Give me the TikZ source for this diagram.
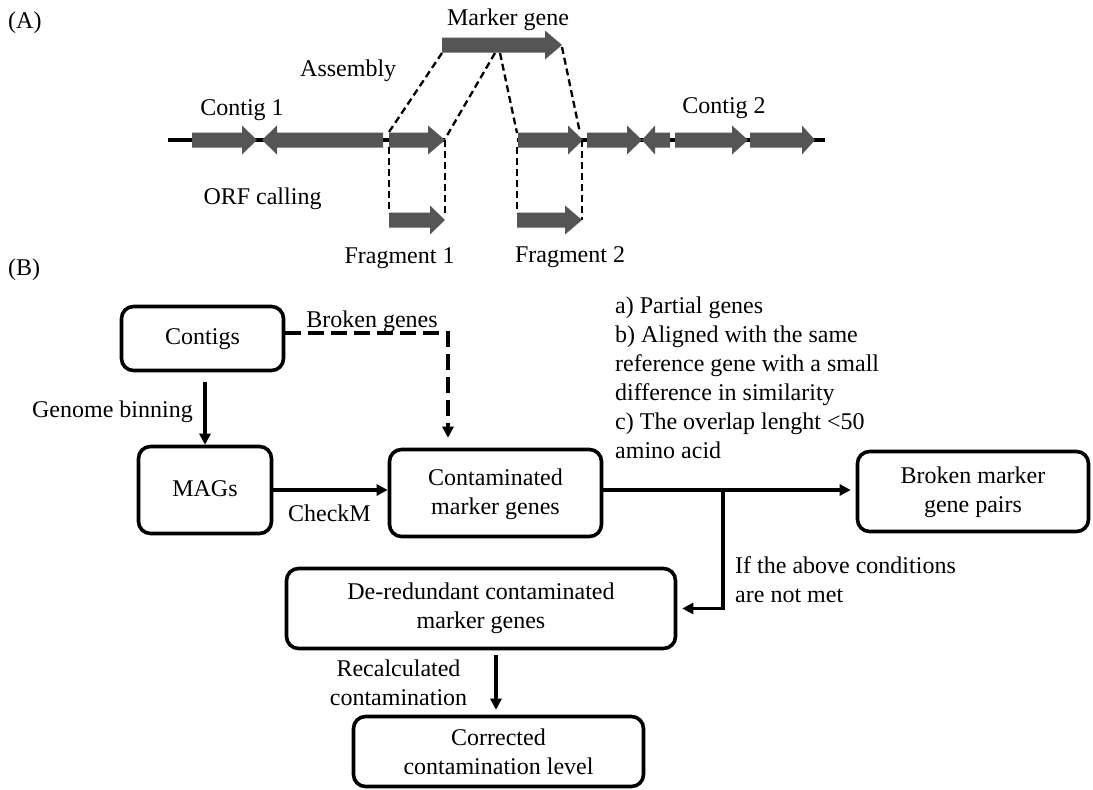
\documentclass[tikz,border=0pt]{standalone}
\usepackage{fontspec}
\setmainfont{Liberation Serif}
\usetikzlibrary{arrows.meta,calc}
\definecolor{genegray}{RGB}{85,85,85}
\newcommand\genearrow[4]{\fill[genegray] (#1,#4-7.5) -- (#2,#4-7.5) -- (#2,#4-14.5) -- (#3,#4) -- (#2,#4+14.5) -- (#2,#4+7.5) -- (#1,#4+7.5) -- cycle;}
\begin{document}
\begin{tikzpicture}[x=1pt,y=-1pt,
  font=\fontsize{24}{29}\selectfont,
  box/.style={draw,line width=3.6pt,rounded corners=12pt,align=center,inner sep=0pt},
  arr/.style={line width=3.3pt,-{Triangle[length=11pt,width=11pt]}},
  dasharr/.style={line width=4pt,dash pattern=on 16pt off 7pt,-{Triangle[length=11pt,width=11pt]}},
  guide/.style={line width=2.3pt,dash pattern=on 7pt off 4pt},
  contig/.style={line width=3.3pt},
  lbl/.style={inner sep=0pt}]
\useasboundingbox (0,0) rectangle (1093,790);

% ---------- (A) ----------
\node[lbl,anchor=base west] (labA) at (8,28) {(A)};
\draw[contig] (168,140) -- (445,140);
\draw[contig] (517,140) -- (825,140);
\genearrow{192}{242}{257}{140}
\genearrow{383}{277}{262}{140}
\genearrow{389}{428}{445}{140}
\genearrow{518}{568}{583}{140}
\genearrow{587}{627}{642}{140}
\genearrow{670}{655}{642}{140}
\genearrow{675}{732}{748}{140}
\genearrow{750}{802}{815}{140}
% marker gene and fragments
\genearrow{442}{545}{562}{45}
\genearrow{389}{430}{445}{220}
\genearrow{517}{565}{582}{220}
% guide lines
\draw[guide] (442,53) -- (389,132);
\draw[guide] (495,53) -- (445,139);
\draw[guide] (500,53) -- (517,133);
\draw[guide] (562,47) -- (580,133);
\draw[guide] (389,147) -- (389,213);
\draw[guide] (445,140) -- (445,213);
\draw[guide] (517,147) -- (517,213);
\draw[guide] (582,140) -- (582,220);
% labels
\node[lbl,anchor=base] (tMarker) at (508,25) {Marker gene};
\node[lbl,anchor=base west] (tAsm) at (300,76) {Assembly};
\node[lbl,anchor=base] (tC1) at (242,115) {Contig 1};
\node[lbl,anchor=base] (tC2) at (724,113) {Contig 2};
\node[lbl,anchor=base] (tORF) at (262.5,204) {ORF calling};
\node[lbl,anchor=base] (tF1) at (399.5,263) {Fragment 1};
\node[lbl,anchor=base] (tF2) at (570,262) {Fragment 2};

% ---------- (B) ----------
\node[lbl,anchor=base west] (labB) at (8,275) {(B)};
\node[box,minimum width=162pt,minimum height=64pt,text depth=3pt] (contigs) at (202.5,338.5) {Contigs};
\node[box,minimum width=133pt,minimum height=87pt,text depth=3pt] (mags) at (205,490) {MAGs};
\node[box,minimum width=212pt,minimum height=87pt,text depth=3pt] (contam) at (495.5,493) {Contaminated\\marker genes};
\node[box,minimum width=231pt,minimum height=80pt,text depth=3pt] (broken) at (973,491.5) {Broken marker\\gene pairs};
\node[box,minimum width=389pt,minimum height=80pt] (dered) at (481,608.5) {De-redundant contaminated\\marker genes};
\node[box,minimum width=290pt,minimum height=70pt] (corr) at (498.5,751.5) {Corrected\\contamination level};

\coordinate (bend) at (448,333);
\coordinate (junc) at (723,490);

\draw[arr] ([yshift=-10pt]contigs.south -| mags.north) -- (mags.north);
\draw[dasharr,shorten >=10pt] (contigs.east |- bend) -- (bend) -- (bend |- contam.north);
\draw[arr] (mags.east) -- (mags.east -| contam.west);
\draw[arr,shorten >=5pt] (mags.east -| contam.east) -- (mags.east -| broken.west);
\draw[arr,shorten >=5pt] (junc) -- (junc |- dered.east) -- (dered.east);
\draw[arr,shorten >=5pt] ($(dered.south)+(15,5)$) -- ($(corr.north)+(-2.5,0)$);

\node[lbl,anchor=base east] (tGB) at (193,417) {Genome binning};
\node[lbl,anchor=base] (tBG) at (372,327) {Broken genes};
\node[lbl,anchor=base] (tCM) at (329.5,521) {CheckM};
\node[lbl,anchor=north west,align=left] (tCond) at (615,297) {a) Partial genes\\b) Aligned with the same\\reference gene with a small\\difference in similarity\\c) The overlap lenght <50\\amino acid};
\node[lbl,anchor=north west,align=left] (tIf) at (735,556) {If the above conditions\\are not met};
\node[lbl,anchor=north,align=center] (tRec) at (398.5,660) {Recalculated\\contamination};
\end{tikzpicture}
\end{document}
